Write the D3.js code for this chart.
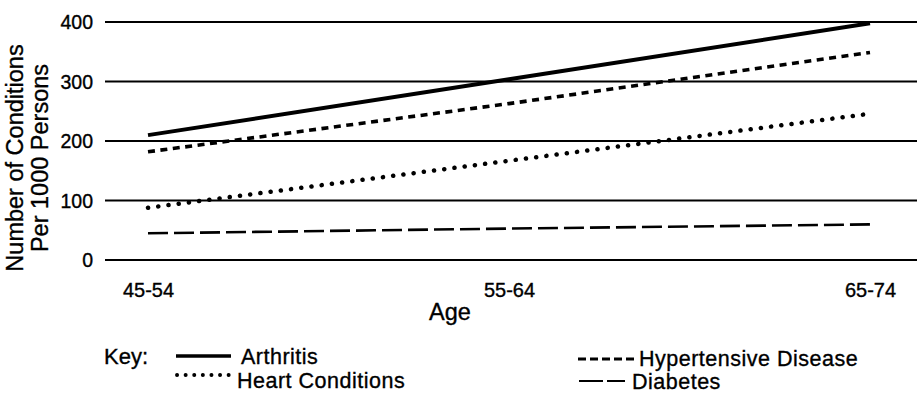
<!DOCTYPE html>
<html>
<head>
<meta charset="utf-8">
<script src="https://cdn.jsdelivr.net/npm/d3@7/dist/d3.min.js"></script>
<style>
  body { margin: 0; background: #fff; }
  text { font-family: "Liberation Sans", Arial, sans-serif; fill: #000; stroke: #000; stroke-width: 0.35px; }
</style>
</head>
<body>
<div id="vizcont"></div>
<script>
// data
var ages = ["45-54", "55-64", "65-74"];
var arthritis = [209, 303, 397];
var hypertensive = [181, 262, 348];
var heart = [87, 166, 245];
var diabetes = [44, 52, 59];
var yTicks = [0, 100, 200, 300, 400];
var seriesNames = ["Arthritis", "Hypertensive Disease", "Heart Conditions", "Diabetes"];

function draw_chart() {
    var W = 917, H = 401;
    var margin = {top: 21.5, right: 0, bottom: 141.5, left: 105};
    var width = W - margin.left - margin.right;
    var height = H - margin.top - margin.bottom;

    var svg = d3.select("#vizcont")
                .append("svg")
                .attr("width", W)
                .attr("height", H);
    var g = svg.append("g")
               .attr("transform", "translate(" + margin.left + "," + margin.top + ")");

    var x = d3.scalePoint().domain(ages).range([43, 765]);
    var y = d3.scaleLinear().domain([0, 400]).range([height, 0]);

    // gridlines + y labels
    var yAxis = g.append("g")
        .call(d3.axisLeft(y).tickValues(yTicks).tickSize(-width).tickPadding(12));
    yAxis.select(".domain").remove();
    yAxis.selectAll("line").attr("stroke", "#000").attr("stroke-width", 2);
    yAxis.selectAll("text")
         .style("font-size", "19.5px")
         .attr("dy", "0.36em");

    // x labels
    var xAxis = g.append("g")
        .attr("transform", "translate(0," + height + ")")
        .call(d3.axisBottom(x).tickSize(0).tickPadding(0));
    xAxis.select(".domain").remove();
    xAxis.selectAll("text")
         .style("font-size", "20px")
         .attr("y", 37.5)
         .attr("dy", 0);

    // axis titles
    g.append("text")
     .attr("x", 345)
     .attr("y", 298.5)
     .attr("text-anchor", "middle")
     .style("font-size", "23.5px")
     .text("Age");

    var yt = svg.append("text")
        .attr("transform", "translate(23,158) rotate(-90)")
        .attr("text-anchor", "middle")
        .style("font-size", "23.5px");
    yt.append("tspan").attr("x", 0).attr("y", 0).text("Number of Conditions");
    yt.append("tspan").attr("x", 0).attr("y", 25).text("Per 1000 Persons");

    var styles = [
        {w: 4, dash: null, cap: "butt"},
        {w: 3.6, dash: "7,5.5", cap: "butt"},
        {w: 4.5, dash: "0.1,10.2", cap: "round"},
        {w: 2.6, dash: "20,6", cap: "butt"}
    ];
    var data = [arthritis, hypertensive, heart, diabetes];

    var line = d3.line()
        .x(function(d, i) { return x(ages[i]); })
        .y(function(d) { return y(d); });

    g.selectAll(".series")
     .data(data)
     .enter()
     .append("path")
     .attr("class", "series")
     .attr("fill", "none")
     .attr("stroke", "#000")
     .attr("stroke-width", function(d, i) { return styles[i].w; })
     .attr("stroke-dasharray", function(d, i) { return styles[i].dash; })
     .attr("stroke-linecap", function(d, i) { return styles[i].cap; })
     .attr("d", line);

    // key
    var lg = svg.append("g");
    lg.append("text").attr("x", 104).attr("y", 364).style("font-size", "22px").text("Key:");

    var items = [
        {x1: 176, x2: 231, ly: 356, tx: 241, ty: 364},
        {x1: 578, x2: 636, ly: 359, tx: 639, ty: 366},
        {x1: 177, x2: 231, ly: 375, tx: 237, ty: 388},
        {x1: 579, x2: 625, ly: 381, tx: 632, ty: 389}
    ];
    var legendDash = [null, "8,4", "0.1,8.5", "24,4"];
    items.forEach(function(it, i) {
        lg.append("line")
          .attr("x1", it.x1).attr("x2", it.x2)
          .attr("y1", it.ly).attr("y2", it.ly)
          .attr("stroke", "#000")
          .attr("stroke-width", styles[i].w - 0.6)
          .attr("stroke-dasharray", legendDash[i])
          .attr("stroke-linecap", styles[i].cap);
        lg.append("text")
          .attr("x", it.tx).attr("y", it.ty)
          .style("font-size", "21.5px")
          .style("letter-spacing", "0.5px")
          .text(seriesNames[i]);
    });
}
draw_chart();
</script>
</body>
</html>
